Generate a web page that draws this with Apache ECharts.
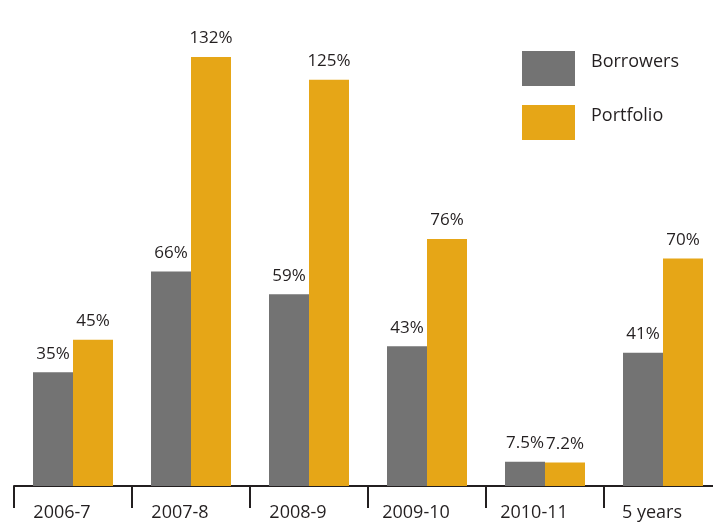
<!DOCTYPE html>
<html><head><meta charset="utf-8">
<script src="https://cdn.jsdelivr.net/npm/echarts@6/dist/echarts.min.js"></script>
<style>html,body{margin:0;padding:0;background:#fff}#c{width:713px;height:527px}</style>
</head><body><div id="c"></div>
<script>
const categories = ['2006-7','2007-8','2008-9','2009-10','2010-11','5 years'];
const borrowers = [35, 66, 59, 43, 7.5, 41];
const portfolio = [45, 132, 125, 76, 7.2, 70];
const labelsB = ['35%','66%','59%','43%','7.5%','41%'];
const labelsP = ['45%','132%','125%','76%','7.2%','70%'];
const FONT = '"Open Sans", sans-serif';
const chart = echarts.init(document.getElementById('c'));
chart.setOption({
  animation: false,
  grid: {left: 14, width: 708, top: 31, height: 455, outerBoundsMode: 'none', containLabel: false},
  legend: {
    orient: 'vertical', left: 517, top: 46,
    itemWidth: 53, itemHeight: 35, itemGap: 19,
    icon: 'rect',
    formatter: n => '{t|' + n + '}',
    textStyle: {fontFamily: FONT, fontSize: 18, color: '#231f20',
      rich: {t: {fontFamily: FONT, fontSize: 18, color: '#231f20', padding: [0, 0, 13, 11]}}},
    data: ['Borrowers','Portfolio']
  },
  xAxis: {
    type: 'category', data: categories,
    axisLine: {show: true, lineStyle: {color: '#231f20', width: 2}},
    axisTick: {show: true, inside: false, interval: 0, length: 22, lineStyle: {color: '#231f20', width: 2}},
    axisLabel: {fontFamily: FONT, fontSize: 18, color: '#231f20', margin: 18, padding: [0,22,0,0]}
  },
  yAxis: {type: 'value', min: 0, max: 140, show: false, splitLine: {show: false}},
  series: [
    {name: 'Borrowers', type: 'bar', data: borrowers, barWidth: 40, barGap: '0%',
     itemStyle: {color: '#737373'},
     label: {show: true, position: 'top', distance: 10, fontFamily: FONT, fontSize: 17, color: '#231f20',
       formatter: p => labelsB[p.dataIndex]}},
    {name: 'Portfolio', type: 'bar', data: portfolio, barWidth: 40, barGap: '0%',
     itemStyle: {color: '#e6a617'},
     label: {show: true, position: 'top', distance: 10, fontFamily: FONT, fontSize: 17, color: '#231f20',
       formatter: p => labelsP[p.dataIndex]}}
  ]
});
</script></body></html>
